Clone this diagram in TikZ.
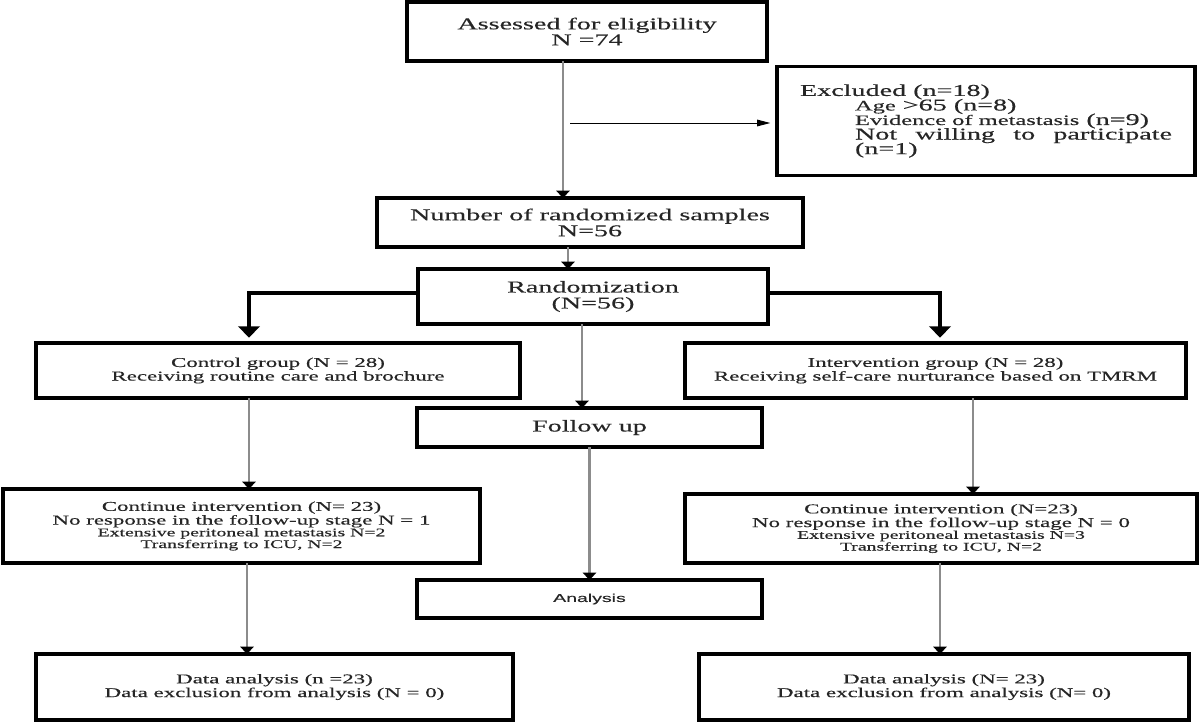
\documentclass[tikz,border=0pt]{standalone}
\usepackage{fontspec}
\setmainfont{Liberation Serif}[FakeStretch=1.7,FakeBold=0.35]
\newfontfamily\sansA{Liberation Sans}[FakeStretch=1.7,FakeBold=0.35]
\usetikzlibrary{arrows.meta,calc}
\newcommand\myExSmall{\fontsize{10.8pt}{10.9pt}\selectfont}
\newcommand\mySmallF{\fontsize{8.7pt}{8.8pt}\selectfont}
\newcommand\myExFont{\fontsize{12.4pt}{10.9pt}\selectfont\lineskiplimit=-20pt\relax}
\tikzset{
  box/.style={draw=black, line width=2.6pt, inner sep=0pt, outer sep=0pt, align=center, text=black!85},
  bigtxt/.style={font=\fontsize{12.4pt}{12pt}\selectfont},
  medtxt/.style={font=\fontsize{10.1pt}{8.8pt}\selectfont},
  conn/.style={draw=black!45, line width=1.6pt, -{Triangle[width=10pt,length=5.5pt,color=black]}},
  thickarr/.style={draw=black, line width=3.2pt, -{Triangle[width=16pt,length=8.5pt]}},
  thinarr/.style={draw=black, line width=0.75pt, -{Triangle[width=5pt,length=10pt]}}
}
\begin{document}
\begin{tikzpicture}[x=0.75pt,y=-0.75pt]
\fill[white] (0,0) rectangle (1200,722);
\useasboundingbox (0,0) rectangle (1200,722);

\node[box,bigtxt,minimum width=270pt,minimum height=44.25pt] (assess) at (587,31.5) {Assessed for eligibility\\N =74};
\node[box,align=left,minimum width=313.5pt,minimum height=81.75pt,font=\myExFont] (excl) at (986,121)
 {Excluded (n=18)\\
  \hspace*{41.25pt}{\myExSmall Age} >65 (n=8)\\
  \hspace*{41.25pt}{\myExSmall Evidence of metastasis} (n=9)\\
  \hspace*{41.25pt}\hbox to 237.75pt{Not\hfill willing\hfill to\hfill participate}\\
  \hspace*{41.25pt}(n=1)};
\node[box,bigtxt,minimum width=319.5pt,minimum height=36.75pt] (nrand) at (590,222.5) {Number of randomized samples\\N=56};
\node[box,bigtxt,minimum width=262.5pt,minimum height=41.25pt] (rand) at (593,296.5) {Randomization\\(N=56)};
\node[box,medtxt,minimum width=363pt,minimum height=41.25pt] (ctrl) at (278,370.5) {Control group (N = 28)\\Receiving routine care and brochure};
\node[box,medtxt,minimum width=375.75pt,minimum height=41.25pt] (intv) at (935.5,370.5) {Intervention group (N = 28)\\Receiving self-care nurturance based on TMRM};
\node[box,bigtxt,minimum width=258.75pt,minimum height=29.25pt] (follow) at (589.5,427.5) {Follow up};
\node[box,medtxt,minimum width=357.75pt,minimum height=55.5pt] (contL) at (241.5,526)
 {Continue intervention (N= 23)\\No response in the follow-up stage N = 1\\{\mySmallF Extensive peritoneal metastasis N=2}\\{\mySmallF Transferring to ICU, N=2}};
\node[box,medtxt,minimum width=384pt,minimum height=51.75pt] (contR) at (941,528.5)
 {Continue intervention (N=23)\\No response in the follow-up stage N = 0\\{\mySmallF Extensive peritoneal metastasis N=3}\\{\mySmallF Transferring to ICU, N=2}};
\node[box,minimum width=258.75pt,minimum height=28.5pt,font=\sansA\fontsize{8.6pt}{10pt}\selectfont] (anal) at (589.5,599) {Analysis};
\node[box,medtxt,minimum width=357.75pt,minimum height=49.5pt] (dataL) at (274.5,687) {Data analysis (n =23)\\Data exclusion from analysis (N = 0)};
\node[box,medtxt,minimum width=367.5pt,minimum height=49.5pt] (dataR) at (944,687) {Data analysis (N= 23)\\Data exclusion from analysis (N= 0)};

\coordinate (c1) at (563,0);
\coordinate (c2) at (568,0);
\coordinate (c3) at (249,0);
\coordinate (c4) at (940,0);
\coordinate (c5) at (582,0);
\coordinate (c6) at (973,0);
\coordinate (c8) at (247,0);
\coordinate (h1) at (0,293);
\coordinate (side) at (570,123);

\draw[conn] (assess.south -| c1) -- (nrand.north -| c1);
\draw[thinarr,shorten >=5pt] (side) -- (side -| excl.west);
\draw[conn] (nrand.south -| c2) -- (rand.north -| c2);
\draw[thickarr,shorten >=4pt] (rand.west |- h1) -| (ctrl.north -| c3);
\draw[thickarr,shorten >=4pt] (rand.east |- h1) -| (intv.north -| c4);
\draw[conn] (rand.south -| c5) -- (follow.north -| c5);
\draw[conn] (ctrl.south -| c3) -- (contL.north -| c3);
\draw[conn] (intv.south -| c6) -- (contR.north -| c6);
\draw[conn] (follow.south) -- (anal.north);
\draw[conn] (contL.south -| c8) -- (dataL.north -| c8);
\draw[conn] (contR.south -| c4) -- (dataR.north -| c4);
\end{tikzpicture}
\end{document}
